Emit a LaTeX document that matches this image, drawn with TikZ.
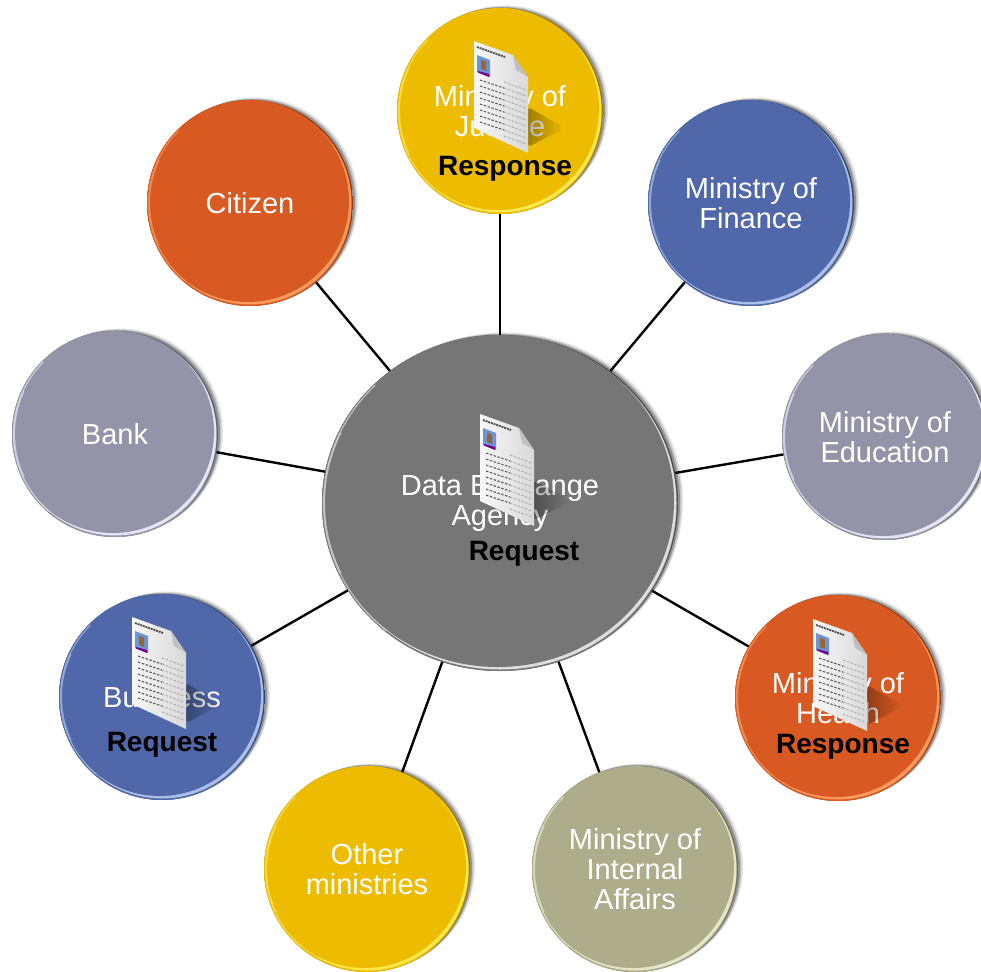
\documentclass[tikz,border=0pt]{standalone}
\usepackage{fontspec}
\usetikzlibrary{shapes.geometric,fadings}
\setmainfont{Liberation Sans}
\definecolor{goldface}{HTML}{EDBB00}
\definecolor{goldrim}{HTML}{FFE84D}
\definecolor{blueface}{HTML}{5068A9}
\definecolor{bluerim}{HTML}{A9BEE8}
\definecolor{rustface}{HTML}{D85A22}
\definecolor{rustrim}{HTML}{FF9A5C}
\definecolor{slateface}{HTML}{9494A8}
\definecolor{slaterim}{HTML}{E4E4F4}
\definecolor{khakiface}{HTML}{ADAC8B}
\definecolor{khakirim}{HTML}{E6E5C8}
\definecolor{hubface}{HTML}{767676}
\definecolor{hubrim}{HTML}{DDDDDD}
\tikzset{
  disc/.style n args={4}{ellipse,inner sep=0pt,minimum width=#3*2,minimum height=#4*2,text=white,align=center,
    font=\fontsize{29}{30}\selectfont,
    preaction={fill=black,opacity=.10,transform canvas={shift={(5pt,2.5pt)}}},
    preaction={fill=black,opacity=.15,transform canvas={shift={(3.5pt,1.5pt)}}},
    preaction={fill=black,opacity=.25,transform canvas={shift={(2pt,.8pt)}}},
    path picture={
      \fill[#1!65!black] (path picture bounding box.south west) rectangle (path picture bounding box.north east);
      \fill[#1] ([shift={(-1,1)}]path picture bounding box.center) circle [x radius=#3-.3,y radius=#4-.3];
      \fill[#2] (path picture bounding box.center) circle [x radius=#3-1.5,y radius=#4-1.5];
      \fill[#1] ([shift={(-2.2,-2.2)}]path picture bounding box.center) circle [x radius=#3-1.8,y radius=#4-1.8];
      \draw[line width=1.2pt,line cap=round,#2,opacity=.7] (path picture bounding box.center) ++(130:#3-1.5 and #4-1.5) arc[start angle=130,end angle=225,x radius=#3-1.5,y radius=#4-1.5];
      \draw[line width=1.2pt,line cap=round,#2,opacity=.7] (path picture bounding box.center) ++(155:#3-2.4 and #4-2.4) arc[start angle=155,end angle=205,x radius=#3-2.4,y radius=#4-2.4];
    }},
  link/.style={line width=2.4pt,black},
  tag/.style={font=\fontsize{28}{30}\selectfont\bfseries,text=black,inner sep=0pt},
  docrow/.style={line width=1.1pt,dash pattern=on 2.5pt off 1.5pt},
  doc/.pic={
    \fill[black,opacity=.32,rounded corners=3pt,path fading=east] (54,66)--(91,87)--(54,106)--cycle;
    \shade[left color=gray!6,right color=gray!30] (0,0)--(39,14)--(54,36)--(54,112)--(0,87)--cycle;
    \fill[gray!50] (39,14)--(42,29)--(54,36)--cycle;
    \draw[line width=1.8pt,black!70,dash pattern=on 2pt off .8pt] (3,6)--(31,16);
    \fill[cyan!45!blue!60] (3,14)--(16,19)--(16,36)--(3,31)--cycle;
    \fill[red!45!blue] (4,30)--(15,33)--(15,36)--(4,31.5)--cycle;
    \fill[brown!80!black] (7,18.5)--(12,20.5)--(12,30)--(7,28)--cycle;
    \foreach \r in {0,...,7} {
      \draw[docrow,black!65] (6,39+6*\r)--(30,47+6*\r);
    }
    \foreach \r in {0,...,9} {
      \draw[docrow,black!30] (30,41+6*\r)--(52,49+6*\r);
    }
  }
}
\begin{document}
\begin{tikzpicture}[x=1pt,y=-1pt]
\useasboundingbox (0,0) rectangle (981,971);
\node[disc={hubface}{hubrim}{178}{168}] (hub) at (500,503) {Data Exchange\\Agency};
\node[disc={goldface}{goldrim}{103}{103}] (justice) at (500,111) {Ministry of\\Justice};
\node[disc={blueface}{bluerim}{103}{103}] (finance) at (751,203) {Ministry of\\Finance};
\node[disc={slateface}{slaterim}{103}{103}] (education) at (885,437) {Ministry of\\Education};
\node[disc={rustface}{rustrim}{103}{103}] (health) at (838,698) {Ministry of\\Health};
\node[disc={khakiface}{khakirim}{103}{103}] (internal) at (635,869) {Ministry of\\Internal\\Affairs};
\node[disc={goldface}{goldrim}{103}{103}] (other) at (367,869) {Other\\ministries};
\node[disc={blueface}{bluerim}{103}{103}] (business) at (162,697) {Business};
\node[disc={slateface}{slaterim}{103}{103}] (bank) at (115,434) {Bank};
\node[disc={rustface}{rustrim}{103}{103}] (citizen) at (250,203) {Citizen};
\draw[link] (hub)--(justice);
\draw[link] (hub)--(finance);
\draw[link] (hub)--(education);
\draw[link] (hub)--(health);
\draw[link] (hub)--(internal);
\draw[link] (hub)--(other);
\draw[link] (hub)--(business);
\draw[link] (hub)--(bank);
\draw[link] (hub)--(citizen);
\pic at (474,41) {doc};
\pic at (480,414) {doc};
\pic at (132,617) {doc};
\pic at (813,619) {doc};
\node[tag] (justicetag) at (505,169) {Response};
\node[tag] (hubtag) at (524,554) {Request};
\node[tag] (businesstag) at (162,745) {Request};
\node[tag] (healthtag) at (843,747) {Response};
\end{tikzpicture}
\end{document}
